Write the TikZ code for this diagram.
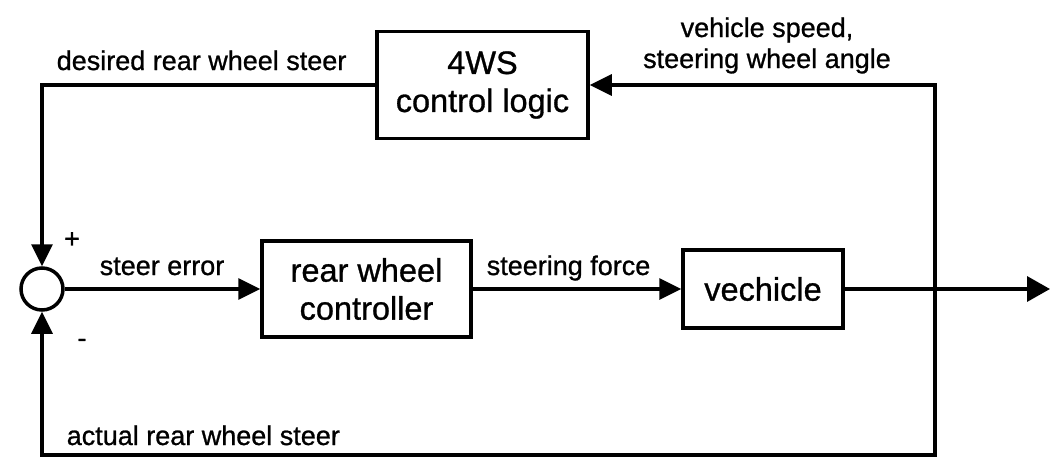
\documentclass[tikz,border=0pt]{standalone}
\usepackage{fontspec}
\setmainfont[FakeBold=0.9]{Liberation Sans}
\usetikzlibrary{arrows.meta}
\begin{document}
\begin{tikzpicture}[x=1pt,y=-1pt,
  line width=3.5pt,
  blk/.style={draw, rectangle, inner sep=0pt, align=center,
    font=\fontsize{32.5}{38}\selectfont},
  lbl/.style={inner sep=0pt, font=\fontsize{27}{32}\selectfont},
  tip/.tip={Triangle[length=22pt,width=21pt]},
  bigtip/.tip={Triangle[length=23pt,width=25pt]},
  arr/.style={-tip}]
\useasboundingbox (0,0) rectangle (1060,458);

% blocks
\node[blk, minimum width=211pt, minimum height=107pt] (logic) at (482.5,85) {4WS\\control logic};
\node[blk, minimum width=209pt, minimum height=96pt] (ctrl) at (366.5,289) {rear wheel\\controller};
\node[blk, minimum width=160pt, minimum height=78pt] (veh) at (763,289) {vechicle};
\node[draw, circle, minimum size=42pt, inner sep=0pt] (sum) at (42,289) {};

% corner points of the loops
\coordinate (tl) at (42,85);
\coordinate (tr) at (935,85);
\coordinate (br) at (935,455);
\coordinate (bl) at (42,455);
\coordinate (out) at (1050,289);

% signal paths
\draw[arr] (logic.west) -- (tl) -- (sum.north);
\draw[arr] (sum.east) -- (ctrl.west);
\draw[arr] (ctrl.east) -- (veh.west);
\draw[-bigtip] (veh.east) -- (out);
\draw[tip-tip] (logic.east) -- (tr) -- (br) -- (bl) -- (sum.south);

% labels
\node[lbl, anchor=base west] (dlab) at (55,70) {desired rear wheel steer};
\node[lbl, anchor=base west] (alab) at (65,445) {actual rear wheel steer};
\node[lbl, anchor=base west] (elab) at (98,275) {steer error};
\node[lbl, anchor=base west] (flab) at (485,275) {steering force};
\node[lbl, anchor=base] (vlab1) at (767,37) {vehicle speed,};
\node[lbl, anchor=base] (vlab2) at (767,68) {steering wheel angle};
\node[lbl] (plus) at (72,240) {+};
\node[lbl] (minus) at (82,343) {-};
\end{tikzpicture}
\end{document}
